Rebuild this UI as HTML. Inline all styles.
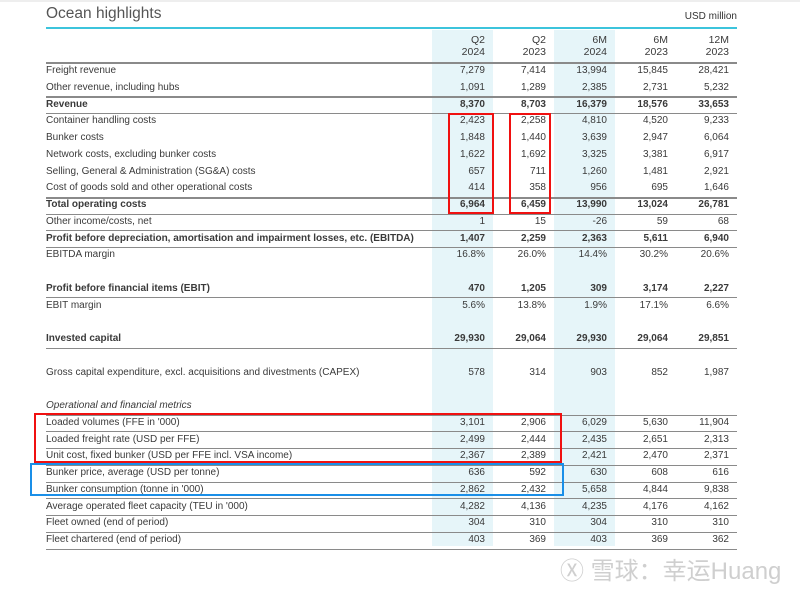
<!DOCTYPE html>
<html><head><meta charset="utf-8"><style>
body{margin:0;width:800px;height:590px;background:#fff;position:relative;overflow:hidden;font-family:"Liberation Sans","Noto Sans CJK SC",sans-serif;color:#3a3a3a}
.a{position:absolute}
.row{position:absolute;left:46px;width:691px;height:16px;font-size:10px;line-height:16px}
.row .lbl{position:absolute;left:0;top:0;white-space:nowrap}
.row .v{position:absolute;top:0;text-align:right;width:58px}
.b{font-weight:bold}
.ln{position:absolute;left:46px;width:691px;height:1px;background:#8a8a8a}
.shade{position:absolute;top:30px;height:516px;width:61px;background:#e6f5f9}
.hdr{position:absolute;top:34px;font-size:10.5px;line-height:12px;text-align:right;width:58px}
.box{position:absolute;border:2px solid #f01010;box-sizing:border-box}
</style></head><body>
<div class="a" style="left:0;top:0;width:800px;height:2px;background:#eee"></div>
<div class="shade" style="left:432px"></div>
<div class="shade" style="left:554px"></div>
<div class="a" style="left:46px;top:5px;font-size:15.5px;color:#555">Ocean highlights</div>
<div class="a" style="right:63px;top:11px;font-size:10px;color:#333">USD million</div>
<div class="a" style="left:46px;top:27px;width:691px;height:2px;background:#3cc4dc"></div>
<div class="hdr" style="left:427px">Q2<br>2024</div>
<div class="hdr" style="left:488px">Q2<br>2023</div>
<div class="hdr" style="left:549px">6M<br>2024</div>
<div class="hdr" style="left:610px">6M<br>2023</div>
<div class="hdr" style="left:671px">12M<br>2023</div>
<div id="t"></div>
<div class="box" style="left:448px;top:113px;width:46px;height:101px"></div>
<div class="box" style="left:509px;top:113px;width:42px;height:101px"></div>
<div class="box" style="left:34px;top:413px;width:528px;height:50px"></div>
<div class="box" style="left:30px;top:463px;width:534px;height:33px;border-color:#1a8fe8"></div>
<div class="a" style="left:560px;top:551px;font-size:24px;color:#cfcfcf">Ⓧ 雪球：幸运Huang</div>
<script>
const labels=["Freight revenue","Other revenue, including hubs","Revenue","Container handling costs","Bunker costs","Network costs, excluding bunker costs","Selling, General & Administration (SG&A) costs","Cost of goods sold and other operational costs","Total operating costs","Other income/costs, net","Profit before depreciation, amortisation and impairment losses, etc. (EBITDA)","EBITDA margin","Profit before financial items (EBIT)","EBIT margin","Invested capital","Gross capital expenditure, excl. acquisitions and divestments (CAPEX)","Operational and financial metrics","Loaded volumes (FFE in '000)","Loaded freight rate (USD per FFE)","Unit cost, fixed bunker (USD per FFE incl. VSA income)","Bunker price, average (USD per tonne)","Bunker consumption (tonne in '000)","Average operated fleet capacity (TEU in '000)","Fleet owned (end of period)","Fleet chartered (end of period)"];
const q2024=["7,279","1,091","8,370","2,423","1,848","1,622","657","414","6,964","1","1,407","16.8%","470","5.6%","29,930","578","","3,101","2,499","2,367","636","2,862","4,282","304","403"];
const q2023=["7,414","1,289","8,703","2,258","1,440","1,692","711","358","6,459","15","2,259","26.0%","1,205","13.8%","29,064","314","","2,906","2,444","2,389","592","2,432","4,136","310","369"];
const h2024=["13,994","2,385","16,379","4,810","3,639","3,325","1,260","956","13,990","-26","2,363","14.4%","309","1.9%","29,930","903","","6,029","2,435","2,421","630","5,658","4,235","304","403"];
const h2023=["15,845","2,731","18,576","4,520","2,947","3,381","1,481","695","13,024","59","5,611","30.2%","3,174","17.1%","29,064","852","","5,630","2,651","2,470","608","4,844","4,176","310","369"];
const y2023=["28,421","5,232","33,653","9,233","6,064","6,917","2,921","1,646","26,781","68","6,940","20.6%","2,227","6.6%","29,851","1,987","","11,904","2,313","2,371","616","9,838","4,162","310","362"];
const slot=[0,1,2,3,4,5,6,7,8,9,10,11,13,14,16,18,20,21,22,23,24,25,26,27,28];
const bold=[2,8,10,12,14];
const linesAfter=[-1,1,2,7,8,9,10,12,14,16,17,18,19,20,21,22,23,24];
const t=document.getElementById('t');
const cols=[q2024,q2023,h2024,h2023,y2023];
const colLeft=[427,488,549,610,671];
function yOf(s){return 63+s*16.75;}
labels.forEach((lab,i)=>{
  const r=document.createElement('div');
  r.className='row'+(bold.includes(i)?' b':'');
  r.style.top=yOf(slot[i])+'px';
  
  
  const l=document.createElement('span');
  l.className='lbl';
  if(i===16)l.style.fontStyle='italic';
  l.textContent=lab;
  
  
  r.appendChild(l);
  cols.forEach((c,j)=>{
    const v=document.createElement('span');
    v.className='v';
    v.style.left=(colLeft[j]-46)+'px';
    v.textContent=c[i];
    
    
    r.appendChild(v);
  });
  t.appendChild(r);
});
linesAfter.forEach(i=>{
  const d=document.createElement('div');
  d.className='ln';
  d.style.top=(i<0?62:Math.round(yOf(slot[i])+16.5))+'px';
  if(i<0||i===1||i===7)d.style.height='2px';
  
  
  t.appendChild(d);
});
</script>
</body></html>
